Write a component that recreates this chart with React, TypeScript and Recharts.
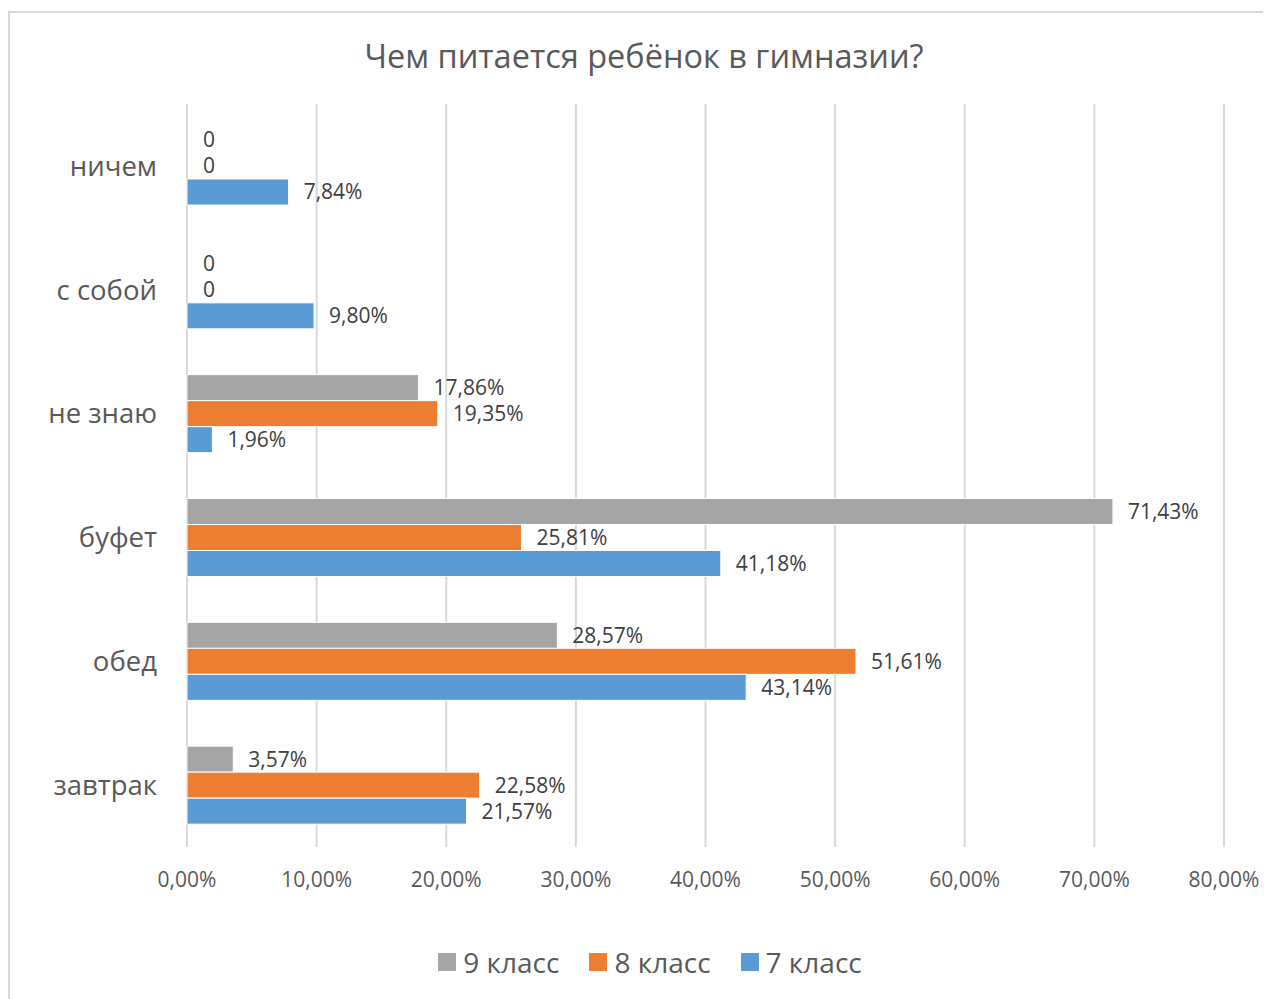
import React from 'react';
import {
  BarChart,
  Bar,
  Cell,
  XAxis,
  YAxis,
  CartesianGrid,
  Legend,
  LabelList,
} from 'recharts';

// Категории сверху вниз, как на исходной диаграмме
const CATEGORIES = ['ничем', 'с собой', 'не знаю', 'буфет', 'обед', 'завтрак'];

// Доли ответов, %
const GRADE_9 = [0, 0, 17.86, 71.43, 28.57, 3.57];
const GRADE_8 = [0, 0, 19.35, 25.81, 51.61, 22.58];
const GRADE_7 = [7.84, 9.8, 1.96, 41.18, 43.14, 21.57];

const SERIES_NAMES = ['9 класс', '8 класс', '7 класс'];
const X_TICKS = [0, 10, 20, 30, 40, 50, 60, 70, 80];

const GRAY = '#A5A5A5';
const ORANGE = '#ED7D31';
const BLUE = '#5B9BD5';
const GRID = '#D9D9D9';
const AXIS_TEXT = '#595959';
const LABEL_TEXT = '#404040';
const FONT = '"Open Sans", "Noto Sans", sans-serif';

const data = CATEGORIES.map((name, i) => ({
  name,
  g9: GRADE_9[i],
  g8: GRADE_8[i],
  g7: GRADE_7[i],
}));

const pct = (v: number) => v.toFixed(2).replace('.', ',') + '%';
const labelFmt = (v: unknown) => (Number(v) === 0 ? '0' : pct(Number(v)));

// подпись справа от бара, рисуется и для нулевых значений
const renderLabel = (props: any) => {
  const { x, y, width, height, value } = props;
  return (
    <text
      x={Number(x) + Number(width) + 15}
      y={Number(y) + Number(height) / 2}
      dy="0.35em"
      fill={LABEL_TEXT}
      fontSize={21}
      fontFamily={FONT}
    >
      {labelFmt(value)}
    </text>
  );
};

// легенда в порядке серий (9, 8, 7), центр смещён как в оригинале
const renderLegend = (props: any) => {
  const items = [...(props.payload || [])].sort(
    (a: any, b: any) => SERIES_NAMES.indexOf(a.value) - SERIES_NAMES.indexOf(b.value)
  );
  return (
    <div
      style={{
        display: 'flex',
        justifyContent: 'center',
        alignItems: 'center',
        height: 36,
        gap: 30,
        paddingLeft: 68,
      }}
    >
      {items.map((it: any) => (
        <div key={it.value} style={{ display: 'flex', alignItems: 'center', gap: 7 }}>
          <span style={{ display: 'inline-block', width: 18, height: 18, background: it.color }} />
          <span style={{ color: AXIS_TEXT, fontSize: 28, fontFamily: FONT, lineHeight: '36px' }}>{it.value}</span>
        </div>
      ))}
    </div>
  );
};

const makeCells = (values: number[], color: string) =>
  values.map((v, i) => (
    <Cell key={i} fill={v === 0 ? 'transparent' : color} stroke={v === 0 ? 'none' : '#fff'} />
  ));

export default function App() {
  return (
    <div style={{ position: 'relative', width: 1263, height: 991, overflow: 'hidden', fontFamily: FONT }}>
      {/* рамка области диаграммы */}
      <div
        style={{
          position: 'absolute',
          left: 0,
          top: 3,
          width: 1300,
          height: 1100,
          border: '2px solid #D9D9D9',
          boxSizing: 'border-box',
        }}
      />
      <div
        style={{
          position: 'absolute',
          left: 0,
          top: 29,
          width: 1272,
          textAlign: 'center',
          fontSize: 32.5,
          color: AXIS_TEXT,
          lineHeight: '38px',
        }}
      >
        Чем питается ребёнок в гимназии?
      </div>
      <BarChart
        style={{ position: 'absolute', left: 0, top: 0 }}
        width={1263}
        height={991}
        data={data}
        layout="vertical"
        margin={{ top: 96, right: 47, left: 0, bottom: 19 }}
        barSize={26}
        barGap={0}
      >
        <CartesianGrid vertical horizontal={false} stroke={GRID} strokeWidth={2} />
        <XAxis
          type="number"
          domain={[0, 80]}
          ticks={X_TICKS}
          tickFormatter={(v) => pct(Number(v))}
          axisLine={false}
          tickLine={false}
          tickSize={0}
          tickMargin={25}
          height={97}
          tick={{ fill: AXIS_TEXT, fontSize: 21, fontFamily: FONT }}
        />
        <YAxis
          type="category"
          dataKey="name"
          axisLine={false}
          tickLine={false}
          tickSize={0}
          tickMargin={30}
          width={179}
          tick={{ fill: AXIS_TEXT, fontSize: 27.5, fontFamily: FONT }}
        />
        <Legend verticalAlign="bottom" align="center" content={renderLegend} />
        <Bar dataKey="g9" name={SERIES_NAMES[0]} fill={GRAY} stroke="#fff" strokeWidth={1} minPointSize={1} isAnimationActive={false}>
          {makeCells(GRADE_9, GRAY)}
          <LabelList dataKey="g9" content={renderLabel} />
        </Bar>
        <Bar dataKey="g8" name={SERIES_NAMES[1]} fill={ORANGE} stroke="#fff" strokeWidth={1} minPointSize={1} isAnimationActive={false}>
          {makeCells(GRADE_8, ORANGE)}
          <LabelList dataKey="g8" content={renderLabel} />
        </Bar>
        <Bar dataKey="g7" name={SERIES_NAMES[2]} fill={BLUE} stroke="#fff" strokeWidth={1} minPointSize={1} isAnimationActive={false}>
          {makeCells(GRADE_7, BLUE)}
          <LabelList dataKey="g7" content={renderLabel} />
        </Bar>
      </BarChart>
    </div>
  );
}
